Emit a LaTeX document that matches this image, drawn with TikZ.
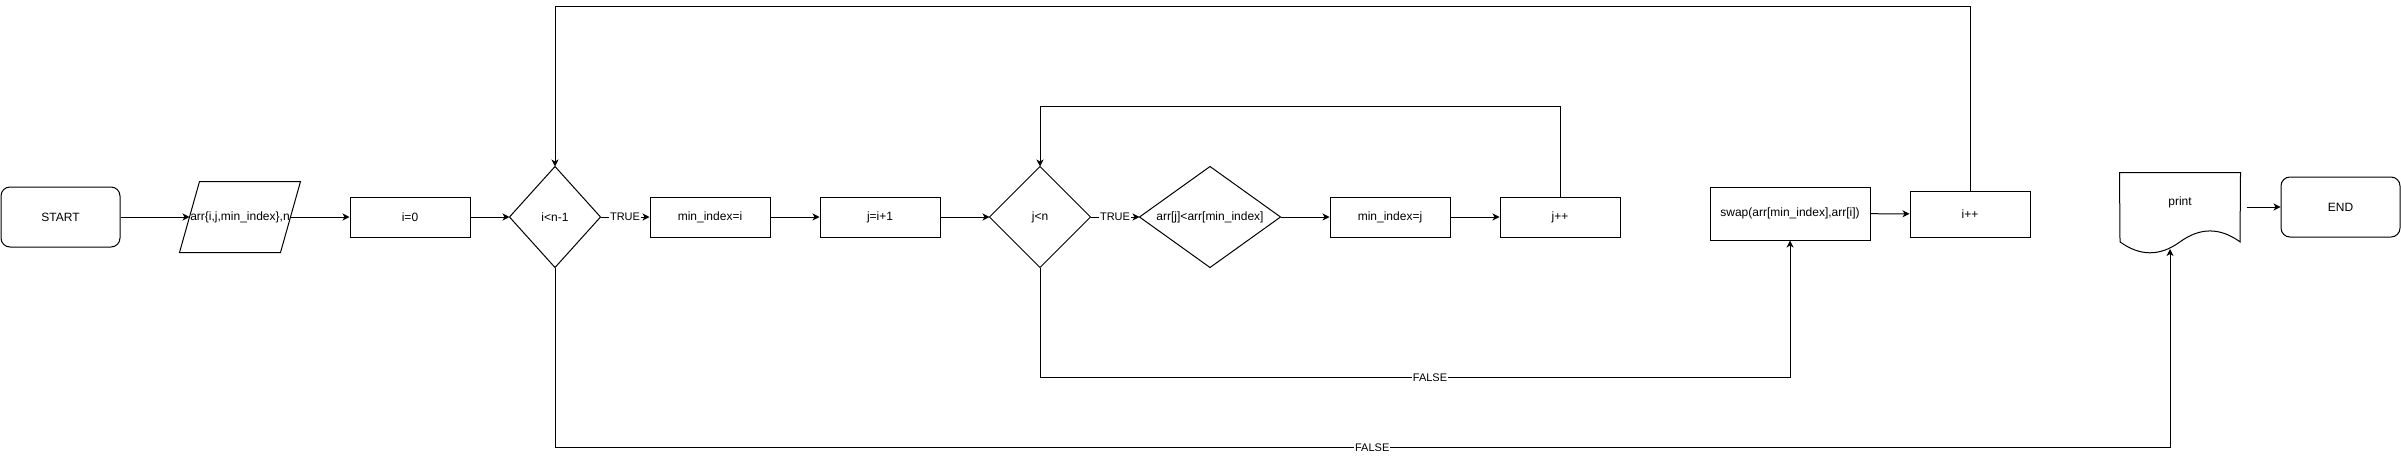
\documentclass[tikz,border=0pt]{standalone}
\usepackage{fontspec}
\setmainfont{Liberation Sans}
\usetikzlibrary{arrows.meta}
\begin{document}
\begin{tikzpicture}[x=1pt,y=-1pt,line width=1pt,
  txt/.style={inner sep=0pt,font=\fontsize{12}{14}\selectfont},
  box/.style={txt,draw,minimum width=120pt,minimum height=40pt},
  term/.style={txt,draw,rounded corners=9pt,minimum width=119pt,minimum height=60pt},
  shp/.style={txt,minimum width=#1pt,minimum height=100pt},
  arr/.style={-{Stealth[length=7pt,width=7pt,inset=2pt]}},
  lbl/.style={fill=white,inner sep=1pt,font=\fontsize{11}{13}\selectfont}]
\useasboundingbox (0,0) rectangle (2401,456);
% nodes
\node[term] (start) at (60.5,217) {START};
\node[txt,minimum width=100pt,minimum height=70pt] (para) at (240,217) {arr\{i,j,min\_index\},n};
\draw ([xshift=-10pt]para.south west) -- ([xshift=10pt]para.north west) -- ([xshift=10pt]para.north east) -- ([xshift=-10pt]para.south east) -- cycle;
\node[box] (i0) at (410,217) {i=0};
\node[shp=90] (d1) at (555,217) {i<n-1};
\draw (d1.west) -- (d1.north) -- (d1.east) -- (d1.south) -- cycle;
\node[box] (mi) at (710,217) {min\_index=i};
\node[box] (ji) at (880,217) {j=i+1};
\node[shp=100] (d2) at (1040,217) {j<n};
\draw (d2.west) -- (d2.north) -- (d2.east) -- (d2.south) -- cycle;
\node[shp=140] (d3) at (1210,217) {arr[j]<arr[min\_index]};
\draw (d3.west) -- (d3.north) -- (d3.east) -- (d3.south) -- cycle;
\node[box] (mj) at (1390,217) {min\_index=j};
\node[box] (jpp) at (1560,217) {j++};
\node[box,minimum width=160pt,minimum height=53pt] (swap) at (1790,213.5) {swap(arr[min\_index],arr[i])};
\node[box,minimum height=46pt] (ipp) at (1970,214) {i++};
\node[txt,minimum width=120pt,minimum height=58pt] (print) at (2180,202) {print};
\draw (print.north west) -- (print.north east) -- (2240,241.85)
  .. controls (2220,227.3) and (2200,227.3) .. (2180,241.85)
  .. controls (2160,256.43) and (2140,256.43) .. (2120,241.85) -- cycle;
\node[term] (end) at (2340.5,207) {END};
\coordinate (printin) at (2170,249);
% connectors
\draw[arr] (start) -- (para.west);
\draw[arr] (para.east) -- (i0);
\draw[arr] (i0) -- (d1.west);
\draw[arr] (d1.east) -- node[lbl] {TRUE} (mi);
\draw[arr] (mi) -- (ji);
\draw[arr] (ji) -- (d2.west);
\draw[arr] (d2.east) -- node[lbl] {TRUE} (d3.west);
\draw[arr] (d3.east) -- (mj);
\draw[arr] (mj) -- (jpp);
\draw[arr] (jpp.north) -- ++(0,-90) -| (d2.north);
\draw[arr] (d2.south) -- ++(0,110) -| node[lbl,pos=0.26] {FALSE} (swap.south);
\draw[arr] (swap) -- (ipp);
\draw[arr] (ipp.north) -- ++(0,-184) -| (d1.north);
\draw[arr] (d1.south) -- ++(0,180) -| node[lbl,pos=0.253] {FALSE} (printin);
\draw[arr] ([xshift=6pt]print.east |- end.west) -- (end.west);
\end{tikzpicture}
\end{document}
